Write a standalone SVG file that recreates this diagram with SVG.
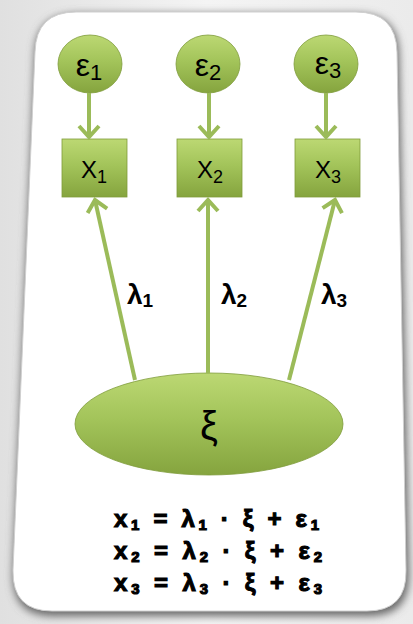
<svg xmlns="http://www.w3.org/2000/svg" width="413" height="624" viewBox="0 0 413 624">
<defs>
<linearGradient id="bg" x1="0" y1="0" x2="1" y2="0">
<stop offset="0" stop-color="#e0e0e0"/>
<stop offset="0.5" stop-color="#f4f4f4"/>
<stop offset="1" stop-color="#ebebeb"/>
</linearGradient>
<linearGradient id="green" x1="0" y1="0" x2="0" y2="1">
<stop offset="0" stop-color="#bcd873"/>
<stop offset="0.45" stop-color="#a3c45a"/>
<stop offset="1" stop-color="#85a43e"/>
</linearGradient>
<filter id="shadow" x="-10%" y="-10%" width="120%" height="120%">
<feGaussianBlur stdDeviation="4"/>
</filter>
<marker id="arr" markerUnits="userSpaceOnUse" markerWidth="26" markerHeight="26" viewBox="-14 -13 16 26" refX="0" refY="0" orient="auto">
<path d="M-11,-10 L0,0 L-11,10" fill="none" stroke="#9bbb59" stroke-width="4" stroke-linejoin="miter"/>
</marker>
<style>
.node{fill:url(#green);stroke:#7f9c3b;stroke-width:0.8}
.lbl{font-family:"Liberation Sans",Arial,sans-serif;fill:#000}
.conn{stroke:#9bbb59;stroke-width:4;fill:none;marker-end:url(#arr)}
.eq{font-family:"Liberation Sans",Arial,sans-serif;font-weight:bold;font-size:24px;fill:#000;stroke:#000;stroke-width:1.1}
.sub{font-size:15px}
</style>
</defs>
<rect x="0" y="0" width="413" height="624" fill="url(#bg)"/>
<g id="card">
<path d="M78,14 L358,14 Q398,14 399,54 L409,574 Q410,616 370,616 L52,616 Q12,616 13,574 L35,54 Q36,14 78,14 Z" fill="#666666" filter="url(#shadow)"/>
<path d="M76,12 L356,12 Q396,12 397,52 L406,570 Q407,611 367,611 L52,611 Q12,611 13,570 L35,52 Q36,12 76,12 Z" fill="#ffffff" stroke="#d0d0d0" stroke-width="1"/>
</g>
<g id="e1"><ellipse class="node" cx="90" cy="64" rx="32" ry="29"/><text class="lbl" x="89" y="76" text-anchor="middle" font-size="32">ε<tspan font-size="22" dy="4">1</tspan></text></g>
<g id="e2"><ellipse class="node" cx="208" cy="64" rx="32" ry="29"/><text class="lbl" x="208" y="76" text-anchor="middle" font-size="32">ε<tspan font-size="22" dy="4">2</tspan></text></g>
<g id="e3"><ellipse class="node" cx="326" cy="64" rx="32" ry="29"/><text class="lbl" x="328" y="74" text-anchor="middle" font-size="32">ε<tspan font-size="22" dy="4">3</tspan></text></g>
<g id="x1"><rect class="node" x="62" y="139" width="65" height="58"/><text class="lbl" x="94" y="178" text-anchor="middle" font-size="24">X<tspan font-size="18" dy="5">1</tspan></text></g>
<g id="x2"><rect class="node" x="177" y="139" width="65" height="58"/><text class="lbl" x="210" y="178" text-anchor="middle" font-size="24">X<tspan font-size="18" dy="5">2</tspan></text></g>
<g id="x3"><rect class="node" x="295" y="139" width="65" height="58"/><text class="lbl" x="328" y="178" text-anchor="middle" font-size="24">X<tspan font-size="18" dy="5">3</tspan></text></g>
<g id="xi"><ellipse class="node" cx="209" cy="424" rx="134" ry="51"/><text class="lbl" x="209" y="440" text-anchor="middle" font-size="40">ξ</text></g>
<g id="connectors">
<line class="conn" x1="89" y1="93" x2="89" y2="137"/>
<line class="conn" x1="209" y1="93" x2="209" y2="137"/>
<line class="conn" x1="326" y1="93" x2="326" y2="137"/>
<line class="conn" x1="135" y1="380" x2="95" y2="200"/>
<line class="conn" x1="208" y1="373" x2="208" y2="200"/>
<line class="conn" x1="289" y1="380" x2="335" y2="200"/>
</g>
<g id="labels">
<text class="lbl" x="127" y="304" font-size="28" font-weight="bold">λ<tspan font-size="19" dy="3">1</tspan></text>
<text class="lbl" x="221" y="304" font-size="28" font-weight="bold">λ<tspan font-size="19" dy="3">2</tspan></text>
<text class="lbl" x="321" y="304" font-size="28" font-weight="bold">λ<tspan font-size="19" dy="3">3</tspan></text>
</g>
<g id="equations">
<text class="eq" x="114" y="527" textLength="205" lengthAdjust="spacing">x<tspan class="sub" dy="3">1</tspan><tspan dy="-3"> = λ</tspan><tspan class="sub" dy="3">1</tspan><tspan dy="-3"> · ξ + ε</tspan><tspan class="sub" dy="3">1</tspan></text>
<text class="eq" x="114" y="559" textLength="208" lengthAdjust="spacing">x<tspan class="sub" dy="3">2</tspan><tspan dy="-3"> = λ</tspan><tspan class="sub" dy="3">2</tspan><tspan dy="-3"> · ξ + ε</tspan><tspan class="sub" dy="3">2</tspan></text>
<text class="eq" x="114" y="591" textLength="208" lengthAdjust="spacing">x<tspan class="sub" dy="3">3</tspan><tspan dy="-3"> = λ</tspan><tspan class="sub" dy="3">3</tspan><tspan dy="-3"> · ξ + ε</tspan><tspan class="sub" dy="3">3</tspan></text>
</g>
</svg>
